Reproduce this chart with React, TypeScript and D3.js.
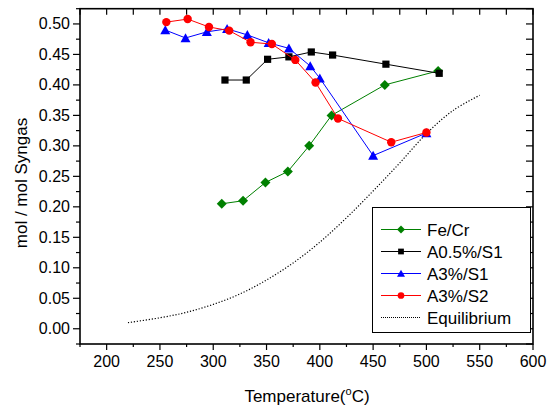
import React, { useEffect, useRef } from "react";
import * as d3 from "d3";

// values
const feCrTemp = [308, 328, 349, 370, 390, 411, 461, 511];
const feCrVal = [0.205, 0.21, 0.24, 0.258, 0.3, 0.35, 0.4, 0.423];

const a05Temp = [311, 331, 351, 371, 392, 412, 462, 512];
const a05Val = [0.408, 0.408, 0.442, 0.446, 0.454, 0.449, 0.434, 0.419];

const a3s1Temp = [255, 274, 294, 313, 332, 352, 371, 391, 400, 450, 500];
const a3s1Val = [0.49, 0.477, 0.487, 0.492, 0.482, 0.469, 0.46, 0.431, 0.411, 0.284, 0.321];

const a3s2Temp = [256, 276, 296, 315, 335, 355, 377, 396, 417, 467, 500];
const a3s2Val = [0.503, 0.508, 0.495, 0.489, 0.47, 0.467, 0.441, 0.404, 0.345, 0.306, 0.322];

const eqTemp = [220, 250, 275, 300, 325, 350, 375, 400, 425, 450, 475, 500, 525, 550];
const eqVal = [0.01, 0.018, 0.027, 0.04, 0.057, 0.08, 0.108, 0.142, 0.182, 0.226, 0.272, 0.32, 0.358, 0.383];

const xTicks = [200, 250, 300, 350, 400, 450, 500, 550, 600];
const yTicks = [0, 0.05, 0.1, 0.15, 0.2, 0.25, 0.3, 0.35, 0.4, 0.45, 0.5];

const seriesNames = ["Fe/Cr", "A0.5%/S1", "A3%/S1", "A3%/S2", "Equilibrium"];

const FONT = "'Liberation Sans', Arial, sans-serif";

const App = () => {
  const ref = useRef<SVGSVGElement>(null);

  useEffect(() => {
    const width = 554;
    const height = 408;
    const margin = { top: 8.7, left: 80, right: 21, bottom: 64 };

    const svg = d3.select(ref.current).attr("width", width).attr("height", height);
    svg.selectAll("*").remove();

    const x = d3.scaleLinear().domain([175, 600]).range([margin.left, width - margin.right]);
    const y = d3.scaleLinear().domain([-0.025, 0.525]).range([height - margin.bottom, margin.top]);

    const x0 = x.range()[0], x1 = x.range()[1];
    const y0 = y.range()[0], y1 = y.range()[1];

    const series = [
      { name: seriesNames[0], t: feCrTemp, v: feCrVal, color: "#008000", marker: "diamond" },
      { name: seriesNames[1], t: a05Temp, v: a05Val, color: "#000000", marker: "square" },
      { name: seriesNames[2], t: a3s1Temp, v: a3s1Val, color: "#0000ff", marker: "triangle" },
      { name: seriesNames[3], t: a3s2Temp, v: a3s2Val, color: "#ff0000", marker: "circle" },
    ];

    const markerPath = (m: string) => {
      if (m === "diamond") return "M0,-5L5,0L0,5L-5,0Z";
      if (m === "square") return "M-3.6,-3.6H3.6V3.6H-3.6Z";
      if (m === "triangle") return "M0,-4.8L5,4.2L-5,4.2Z";
      return d3.arc()({ innerRadius: 0, outerRadius: 4.2, startAngle: 0, endAngle: 2 * Math.PI } as any) as string;
    };

    // ticks
    const g = svg.append("g").attr("stroke", "#000").attr("stroke-width", 1.2);
    d3.range(175, 601, 25).forEach((t) => {
      const major = t % 50 === 0;
      g.append("line").attr("x1", x(t)).attr("x2", x(t)).attr("y1", y0).attr("y2", y0 + (major ? 6 : 3));
      g.append("line").attr("x1", x(t)).attr("x2", x(t)).attr("y1", y1).attr("y2", y1 + 6);
    });
    d3.range(-0.025, 0.526, 0.025).forEach((v) => {
      const major = Math.abs(Math.round(v * 20) - v * 20) < 1e-6;
      g.append("line").attr("x1", x0).attr("x2", x0 - (major ? 7 : 4)).attr("y1", y(v)).attr("y2", y(v));
      g.append("line").attr("x1", x1).attr("x2", x1 - 7).attr("y1", y(v)).attr("y2", y(v));
    });

    // frame
    svg.append("rect")
      .attr("x", x0).attr("y", y1)
      .attr("width", x1 - x0).attr("height", y0 - y1)
      .attr("fill", "none").attr("stroke", "#000").attr("stroke-width", 1.6);

    // tick labels
    svg.append("g").selectAll("text").data(xTicks).enter().append("text")
      .attr("x", (d) => x(d)).attr("y", y0 + 23)
      .attr("text-anchor", "middle")
      .style("font-family", FONT).style("font-size", "16px")
      .text((d) => d);
    svg.append("g").selectAll("text").data(yTicks).enter().append("text")
      .attr("x", x0 - 10).attr("y", (d) => y(d) + 5.5)
      .attr("text-anchor", "end")
      .style("font-family", FONT).style("font-size", "16px")
      .text((d) => d3.format(".2f")(d));

    // axis titles
    const xt = svg.append("text")
      .attr("x", 307).attr("y", 402)
      .attr("text-anchor", "middle")
      .style("font-family", FONT).style("font-size", "17px");
    xt.append("tspan").text("Temperature(");
    xt.append("tspan").attr("dy", -7).style("font-size", "11px").text("o");
    xt.append("tspan").attr("dy", 7).text("C)");

    svg.append("text")
      .attr("transform", `translate(27,${183}) rotate(-90)`)
      .attr("text-anchor", "middle")
      .style("font-family", FONT).style("font-size", "17px")
      .text("mol / mol Syngas");

    // equilibrium curve
    const eqData = eqTemp.map((t, i) => [t, eqVal[i]] as [number, number]);
    svg.append("path")
      .datum(eqData)
      .attr("d", d3.line<[number, number]>().x((d) => x(d[0])).y((d) => y(d[1])).curve(d3.curveCatmullRom))
      .attr("fill", "none").attr("stroke", "#000").attr("stroke-width", 1.2)
      .attr("stroke-dasharray", "1.2,1.8");

    // data series
    const line = d3.line<[number, number]>().x((d) => x(d[0])).y((d) => y(d[1]));
    series.forEach((s) => {
      const pts = s.t.map((t, i) => [t, s.v[i]] as [number, number]);
      svg.append("path").datum(pts).attr("d", line)
        .attr("fill", "none").attr("stroke", s.color).attr("stroke-width", 1);
      svg.append("g").selectAll("path").data(pts).enter().append("path")
        .attr("transform", (d) => `translate(${x(d[0])},${y(d[1])})`)
        .attr("d", markerPath(s.marker))
        .attr("fill", s.color);
    });

    // legend
    const lg = svg.append("g");
    lg.append("rect").attr("x", 372.5).attr("y", 207.5).attr("width", 158).attr("height", 125)
      .attr("fill", "#fff").attr("stroke", "#000").attr("stroke-width", 1);
    const rowY = (i: number) => 229.5 + i * 22;
    series.forEach((s, i) => {
      lg.append("line").attr("x1", 381).attr("x2", 421).attr("y1", rowY(i)).attr("y2", rowY(i))
        .attr("stroke", s.color).attr("stroke-width", 1);
      lg.append("path")
        .attr("d", markerPath(s.marker)).attr("fill", s.color)
        .attr("transform", `translate(401,${rowY(i)}) scale(0.8)`);
    });
    lg.append("line").attr("x1", 381).attr("x2", 421).attr("y1", rowY(4)).attr("y2", rowY(4))
      .attr("stroke", "#000").attr("stroke-width", 1).attr("stroke-dasharray", "1,1");
    seriesNames.forEach((n, i) => {
      lg.append("text").attr("x", 427).attr("y", rowY(i) + 6)
        .style("font-family", FONT).style("font-size", "17px")
        .text(n);
    });
  }, []);

  return (
    <div style={{ position: "absolute", left: 0, top: 0 }}>
      <svg ref={ref}></svg>
    </div>
  );
};

export default App;
